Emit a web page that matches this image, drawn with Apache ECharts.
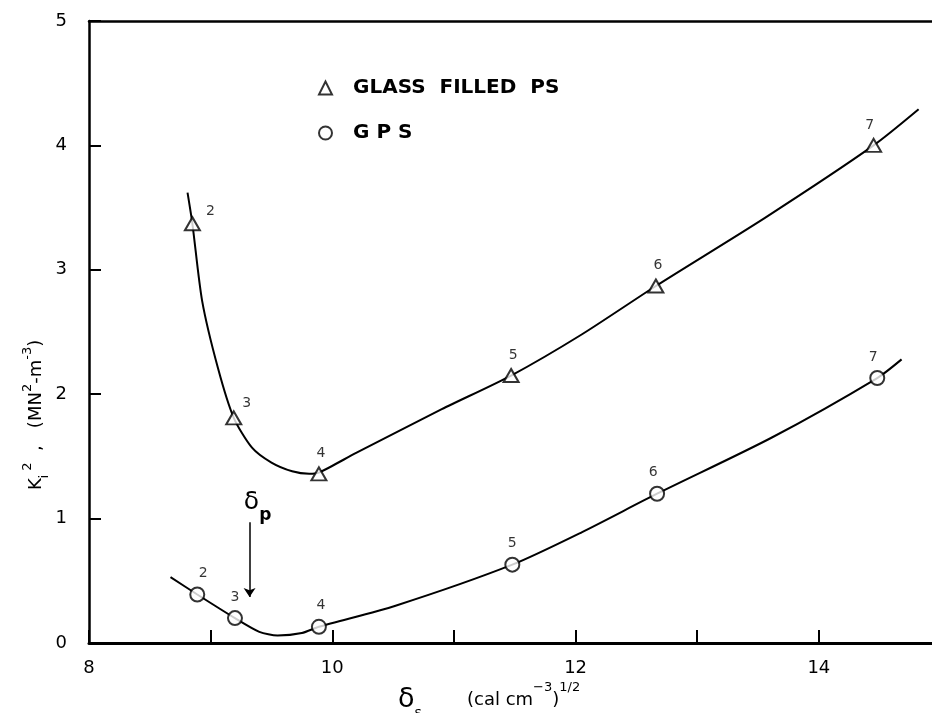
<!DOCTYPE html>
<html>
<head>
<meta charset="utf-8">
<script src="https://cdn.jsdelivr.net/npm/echarts@6/dist/echarts.min.js"></script>
<style>
  html, body { margin: 0; padding: 0; background: #fff; }
  #chart { width: 932px; height: 713px; }
</style>
</head>
<body>
<div id="chart"></div>
<script>
/* measured points, numbered 2..7 */
var pointLabels = ['2', '3', '4', '5', '6', '7'];
var triX = [8.85, 9.19, 9.89, 11.47, 12.66, 14.45];
var triY = [3.37, 1.81, 1.36, 2.15, 2.87, 4.00];
var gpsX = [8.89, 9.20, 9.89, 11.48, 12.67, 14.48];
var gpsY = [0.39, 0.20, 0.13, 0.63, 1.20, 2.13];

/* hand drawn curves */
var triCurveX = [8.81, 8.85, 8.93, 9.06, 9.19, 9.34, 9.50, 9.67, 9.81, 9.89, 10.20, 10.90, 11.47, 12.05, 12.66, 13.56, 14.45, 14.82];
var triCurveY = [3.62, 3.37, 2.75, 2.21, 1.81, 1.57, 1.45, 1.38, 1.36, 1.37, 1.53, 1.88, 2.15, 2.48, 2.87, 3.42, 4.00, 4.29];
var gpsCurveX = [8.67, 8.89, 9.20, 9.40, 9.55, 9.75, 9.89, 10.52, 11.48, 12.05, 12.67, 13.61, 14.48, 14.68];
var gpsCurveY = [0.53, 0.39, 0.20, 0.09, 0.06, 0.08, 0.13, 0.30, 0.63, 0.89, 1.20, 1.65, 2.13, 2.28];

/* delta_p arrow */
var arrowX = 9.32;
var arrowY = [0.97, 0.37];

var xTicks = [8, 10, 12, 14];

function zip(xs, ys) {
  return xs.map(function (x, i) { return [x, ys[i]]; });
}

var FONT = 'DejaVu Sans';

var chart = echarts.init(document.getElementById('chart'));

/* label placement: first two triangles sit up-right, rest above */
var triLabelOffset = [[18, 8], [13, 6], [2, 0], [2, 0], [2, 0], [-4, 0]];
var gpsLabelOffset = [[6, 0], [0, 0], [2, 0], [0, 0], [-4, 0], [-4, 0]];

function points(xs, ys, offsets) {
  return zip(xs, ys).map(function (p, i) {
    return { value: p, label: { offset: offsets[i] } };
  });
}

var option = {
  animation: false,
  backgroundColor: '#fff',
  textStyle: { fontFamily: FONT },
  /* the printed frame runs past the right edge of the scan (x axis to ~14.93) */
  grid: { left: 89, right: 0, top: 21, bottom: 70 },
  legend: {
    orient: 'vertical',
    left: 313, top: 73,
    itemGap: 25,
    itemWidth: 13, itemHeight: 13,
    data: ['GLASS FILLED PS', 'GPS'],
    formatter: function (name) {
      return name === 'GPS' ? 'G P S' : 'GLASS  FILLED  PS';
    },
    textStyle: { fontFamily: FONT, fontWeight: 'bold', fontSize: 20, color: '#000', padding: [0, 0, 0, 16] }
  },
  xAxis: [
    {
      type: 'value', min: 8, max: 14.93, interval: 1,
      splitLine: { show: false },
      axisLine: { lineStyle: { color: '#000', width: 3 } },
      axisTick: { inside: true, length: 13, lineStyle: { color: '#000', width: 2 } },
      axisLabel: {
        color: '#000', fontSize: 18, margin: 16, fontFamily: FONT, showMaxLabel: false,
        formatter: function (v) { return xTicks.indexOf(v) >= 0 ? String(v) : ''; }
      }
    },
    {
      type: 'value', position: 'top', min: 8, max: 14.93,
      splitLine: { show: false },
      axisLine: { show: true, lineStyle: { color: '#000', width: 2.5 } },
      axisTick: { show: false },
      axisLabel: { show: false }
    }
  ],
  yAxis: {
    type: 'value', min: 0, max: 5, interval: 1,
    splitLine: { show: false },
    axisLine: { lineStyle: { color: '#000', width: 2.5 } },
    axisTick: { inside: true, length: 12, lineStyle: { color: '#000', width: 2 } },
    axisLabel: { color: '#000', fontSize: 18, margin: 22, fontFamily: FONT }
  },
  series: [
    {
      name: 'triCurve', type: 'line', smooth: 0.25, showSymbol: false, silent: true,
      lineStyle: { color: '#000', width: 2 },
      data: zip(triCurveX, triCurveY), z: 2
    },
    {
      name: 'gpsCurve', type: 'line', smooth: 0.25, showSymbol: false, silent: true,
      lineStyle: { color: '#000', width: 2 },
      data: zip(gpsCurveX, gpsCurveY), z: 2,
      markLine: {
        silent: true,
        symbol: ['none', 'arrow'],
        symbolSize: 9,
        lineStyle: { color: '#000', width: 1.5, type: 'solid' },
        label: {
          show: true, position: 'start', distance: 0, offset: [8, 2],
          formatter: '{d|δ}{p|p}',
          rich: {
            d: { fontSize: 25, color: '#000', fontFamily: FONT, lineHeight: 26, verticalAlign: 'top' },
            p: { fontSize: 17, color: '#000', fontFamily: FONT, fontWeight: 'bold', lineHeight: 34, verticalAlign: 'bottom' }
          }
        },
        data: [[{ coord: [arrowX, arrowY[0]] }, { coord: [arrowX, arrowY[1]] }]]
      }
    },
    {
      name: 'GLASS FILLED PS', type: 'scatter', symbol: 'triangle', symbolSize: [15, 13],
      itemStyle: { color: '#fff', borderColor: '#000', borderWidth: 2 },
      label: {
        show: true, position: 'top', distance: 6, color: '#000', fontSize: 14, fontFamily: FONT,
        formatter: function (p) { return pointLabels[p.dataIndex]; }
      },
      data: points(triX, triY, triLabelOffset), z: 5
    },
    {
      name: 'GPS', type: 'scatter', symbol: 'circle', symbolSize: 14,
      itemStyle: { color: '#fff', borderColor: '#000', borderWidth: 2 },
      label: {
        show: true, position: 'top', distance: 6, color: '#000', fontSize: 14, fontFamily: FONT,
        formatter: function (p) { return pointLabels[p.dataIndex]; }
      },
      data: points(gpsX, gpsY, gpsLabelOffset), z: 5
    }
  ],
  graphic: [
    {
      type: 'text', left: 398, top: 686,
      style: {
        text: '{d|δ}{s|s}',
        rich: {
          d: { fontSize: 27, fill: '#000', fontFamily: FONT, lineHeight: 26, verticalAlign: 'top' },
          s: { fontSize: 14, fill: '#000', fontFamily: FONT, lineHeight: 34, verticalAlign: 'bottom' }
        }
      }
    },
    {
      type: 'text', left: 467, top: 681,
      style: {
        text: '{a|(cal cm}{u|−3}{a|)}{u|1/2}',
        rich: {
          a: { fontSize: 18, fill: '#000', fontFamily: FONT, lineHeight: 28, verticalAlign: 'bottom' },
          u: { fontSize: 13, fill: '#000', fontFamily: FONT, lineHeight: 14, verticalAlign: 'top' }
        }
      }
    },
    {
      type: 'text', x: 36, y: 490, rotation: Math.PI / 2,
      style: {
        text: '{a|K}{b|i}{u| 2}{a|  ,   (MN}{u|2}{a|-m}{u|-3}{a|)}',
        verticalAlign: 'middle',
        rich: {
          a: { fontSize: 18, fill: '#000', fontFamily: FONT, lineHeight: 30, verticalAlign: 'middle' },
          b: { fontSize: 12, fill: '#000', fontFamily: FONT, lineHeight: 20, verticalAlign: 'bottom' },
          u: { fontSize: 13, fill: '#000', fontFamily: FONT, lineHeight: 12, verticalAlign: 'top' }
        }
      }
    }
  ]
};

option && chart.setOption(option);
</script>
</body>
</html>
